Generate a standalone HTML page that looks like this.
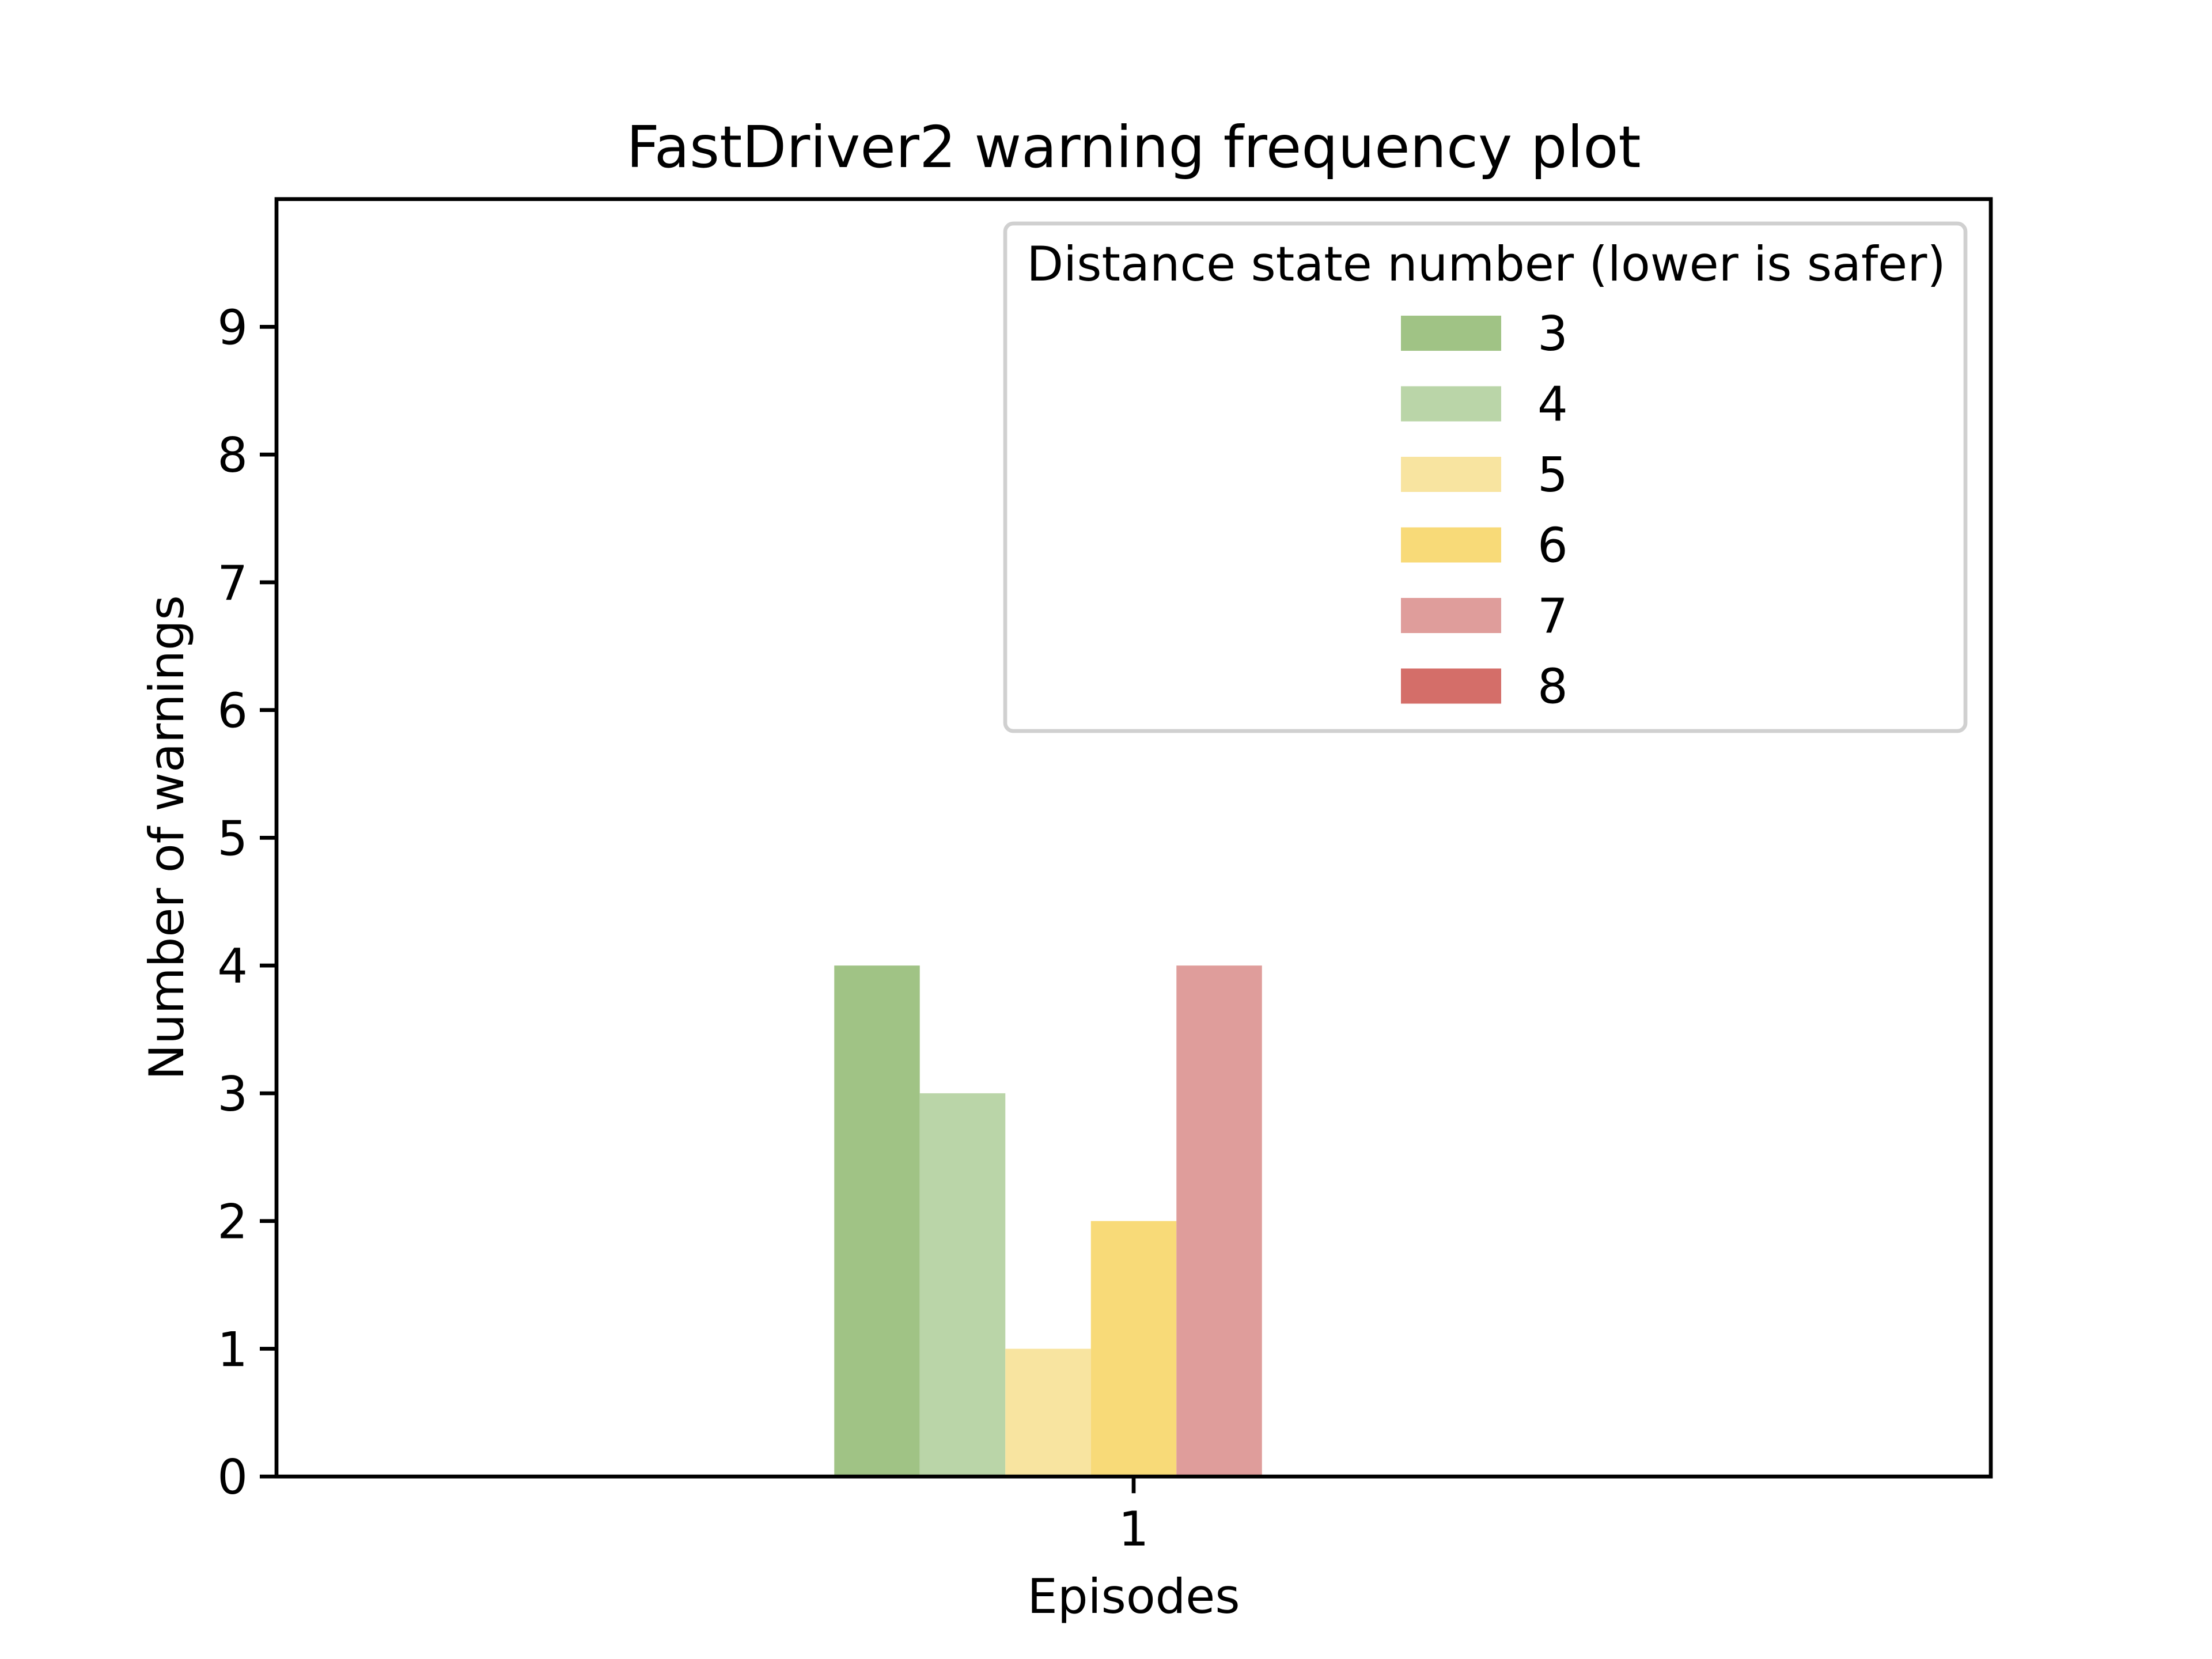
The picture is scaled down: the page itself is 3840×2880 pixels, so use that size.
<!DOCTYPE html>
<html><head><meta charset="utf-8"><style>
html,body{margin:0;padding:0;background:#fff;}
svg{display:block;font-family:"DejaVu Sans","Liberation Sans",sans-serif;}
</style></head><body>
<svg id="chart" width="3840" height="2880" viewBox="0 0 3840 2880" xmlns="http://www.w3.org/2000/svg">
<rect x="0" y="0" width="3840" height="2880" fill="#fff"/>
<text x="1968" y="290" font-size="100" text-anchor="middle">FastDriver2 warning frequency plot</text>
<g id="bars"></g>
<g id="yticks"></g>
<g id="xticks"></g>
<rect x="480" y="345.6" width="2976" height="2217.6" fill="none" stroke="#000" stroke-width="6.7"/>
<text transform="translate(318,1454) rotate(-90)" font-size="83" text-anchor="middle">Number of warnings</text>
<text x="1968" y="2800" font-size="83" text-anchor="middle">Episodes</text>
<g id="legend">
<rect x="1745" y="388" width="1667" height="881" rx="14" fill="#fff" fill-opacity="0.8" stroke="#d0d0d0" stroke-width="6.7"/>
<text x="2580" y="487" font-size="83" text-anchor="middle">Distance state number (lower is safer)</text>
</g>
</svg>
<script>
const categories = ["1"];
const seriesNames = ["3","4","5","6","7","8"];
const seriesValues = [[4],[3],[1],[2],[4],[0]];
const seriesColors = ["#a0c385","#bad5a8","#f8e4a0","#f8da78","#df9d9b","#d46e69"];
const yTicks = [0,1,2,3,4,5,6,7,8,9];
const NS = "http://www.w3.org/2000/svg";
const L=480,R=3456,T=345.6,B=2563.2,yMax=10;
const yScale = v => B - v/yMax*(B-T);
const xCenter = i => L + (i+0.5)*(R-L)/categories.length;
const barW = 148.5;
const bars = document.getElementById('bars');
seriesValues.forEach((vals,s)=>{
  vals.forEach((v,i)=>{
    const r=document.createElementNS(NS,'rect');
    
    
    const x = xCenter(i) + (s-3)*barW - barW/2;
    r.setAttribute('x',x); r.setAttribute('width',barW);
    r.setAttribute('y',yScale(v)); r.setAttribute('height',B-yScale(v));
    r.setAttribute('fill',seriesColors[s]);
    bars.appendChild(r);
  });
});
const yg=document.getElementById('yticks');
yTicks.forEach(t=>{
  const y=yScale(t);
  const ln=document.createElementNS(NS,'line');
  
  
  ln.setAttribute('x1',L-29);ln.setAttribute('x2',L);ln.setAttribute('y1',y);ln.setAttribute('y2',y);
  ln.setAttribute('stroke','#000');ln.setAttribute('stroke-width','6.7');
  yg.appendChild(ln);
  const tx=document.createElementNS(NS,'text');
  
  
  tx.setAttribute('x',L-50);tx.setAttribute('y',y+30);tx.setAttribute('font-size','83');tx.setAttribute('text-anchor','end');
  tx.textContent=t; yg.appendChild(tx);
});
const xg=document.getElementById('xticks');
categories.forEach((c,i)=>{
  const x=xCenter(i);
  const ln=document.createElementNS(NS,'line');
  
  
  ln.setAttribute('x1',x);ln.setAttribute('x2',x);ln.setAttribute('y1',B);ln.setAttribute('y2',B+29);
  ln.setAttribute('stroke','#000');ln.setAttribute('stroke-width','6.7');
  xg.appendChild(ln);
  const tx=document.createElementNS(NS,'text');
  
  
  tx.setAttribute('x',x);tx.setAttribute('y',B+120);tx.setAttribute('font-size','83');tx.setAttribute('text-anchor','middle');
  tx.textContent=c; xg.appendChild(tx);
});
const lg=document.getElementById('legend');
seriesNames.forEach((n,s)=>{
  const cy=578+s*122.5;
  const r=document.createElementNS(NS,'rect');
  
  
  r.setAttribute('x',2432);r.setAttribute('y',cy-30);r.setAttribute('width',174);r.setAttribute('height',61);
  r.setAttribute('fill',seriesColors[s]); lg.appendChild(r);
  const tx=document.createElementNS(NS,'text');
  
  
  tx.setAttribute('x',2669);tx.setAttribute('y',cy+30);tx.setAttribute('font-size','83');
  tx.textContent=n; lg.appendChild(tx);
});
</script>
</body></html>
